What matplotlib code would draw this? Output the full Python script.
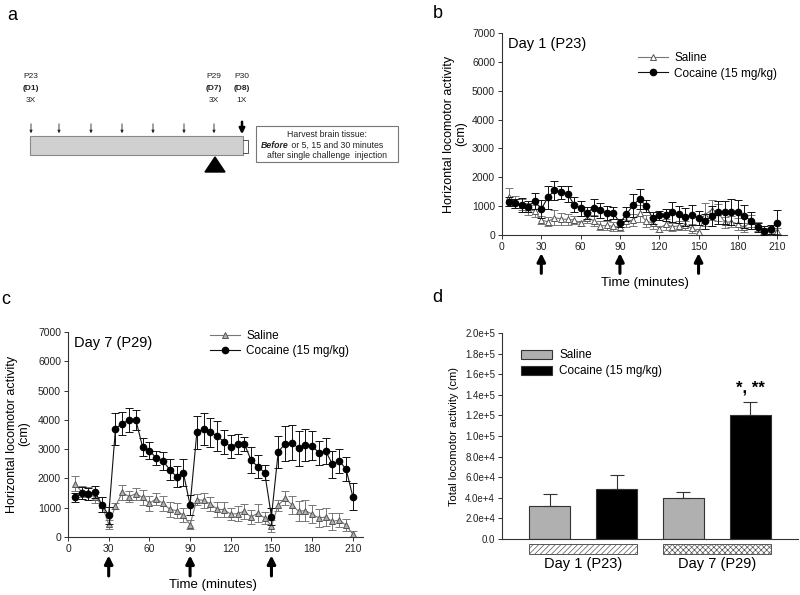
import matplotlib.pyplot as plt
import numpy as np
from matplotlib.patches import Rectangle, Polygon, Patch
from matplotlib.lines import Line2D
from matplotlib.ticker import FuncFormatter
from matplotlib.transforms import blended_transform_factory

plt.rcParams['font.family'] = ['Liberation Sans', 'DejaVu Sans']
plt.rcParams['hatch.linewidth'] = 0.5

# ---- data ----
time_min = list(range(5, 215, 5))
arrow_times = [30, 90, 150]

# Day 1 (P23)
d1_saline = [1320, 1150, 1050, 900, 830, 520, 460, 600, 560, 540, 520, 400, 600, 500,
             320, 330, 300, 280, 480, 520, 750, 480, 420, 220, 370, 280, 320, 330,
             230, 100, 700, 880, 780, 440, 460, 380, 260, 480, 300, 150, 80, 130]
d1_saline_err = [300, 200, 200, 200, 200, 150, 150, 250, 200, 200, 150, 100, 200, 200,
                 150, 150, 150, 150, 200, 200, 300, 200, 200, 100, 200, 150, 150, 150,
                 150, 100, 400, 350, 300, 200, 200, 200, 150, 200, 150, 100, 100, 100]
d1_cocaine = [1150, 1100, 1030, 980, 1180, 900, 1300, 1550, 1480, 1430, 1050, 920, 770, 950,
              850, 760, 760, 420, 720, 1030, 1250, 1000, 580, 680, 700, 800, 720, 620,
              700, 580, 470, 650, 780, 780, 800, 800, 650, 500, 270, 150, 200, 430]
d1_cocaine_err = [150, 150, 250, 200, 280, 300, 400, 320, 230, 280, 250, 250, 200, 300,
                  250, 250, 200, 150, 250, 400, 350, 200, 200, 150, 200, 350, 300, 300,
                  350, 250, 250, 350, 400, 400, 450, 400, 400, 300, 150, 150, 150, 430]

# Day 7 (P29)
d7_saline = [1820, 1550, 1550, 1350, 1100, 430, 1050, 1520, 1380, 1480, 1350, 1150, 1300, 1150,
             950, 900, 750, 420, 1280, 1250, 1130, 950, 930, 780, 800, 880, 680, 820,
             650, 380, 1080, 1330, 1100, 880, 900, 780, 650, 680, 530, 580, 400, 100]
d7_saline_err = [250, 200, 150, 200, 250, 150, 100, 250, 200, 200, 250, 250, 200, 250,
                 250, 250, 250, 150, 200, 250, 250, 250, 250, 200, 250, 250, 250, 300,
                 200, 200, 200, 250, 300, 350, 350, 300, 300, 300, 300, 250, 200, 100]
d7_cocaine = [1350, 1500, 1470, 1530, 1100, 740, 3700, 3870, 4000, 4000, 3070, 2950, 2700, 2600,
              2300, 2060, 2200, 1090, 3570, 3700, 3570, 3450, 3250, 3090, 3180, 3180, 2620, 2400,
              2200, 700, 2900, 3190, 3220, 3030, 3130, 3120, 2870, 2930, 2480, 2600, 2320, 1380]
d7_cocaine_err = [150, 200, 200, 200, 250, 300, 550, 400, 400, 350, 300, 300, 250, 300,
                  350, 350, 450, 350, 550, 550, 500, 500, 400, 400, 350, 250, 450, 400,
                  250, 300, 550, 600, 600, 600, 550, 500, 400, 450, 450, 400, 400, 450]

# Totals
groups = ['Day 1 (P23)', 'Day 7 (P29)']
total_saline = [32000, 40000]
total_saline_err = [12000, 6000]
total_cocaine = [49000, 120000]
total_cocaine_err = [13000, 13000]

# Timeline schematic
inject_days = [1, 2, 3, 4, 5, 6, 7]

W, H = 800, 595
fig = plt.figure(figsize=(8, 5.95), dpi=100)

def px_axes(x0, y0, x1, y1):
    return fig.add_axes([x0 / W, 1 - y1 / H, (x1 - x0) / W, (y1 - y0) / H])

# overlay in pixel coordinates for letters and schematic
ov = fig.add_axes([0, 0, 1, 1])
ov.set_xlim(0, W)
ov.set_ylim(H, 0)
ov.axis('off')

for letter, (x, y) in zip('abcd', [(12, 15), (438, 13), (6, 299), (437, 298)]):
    ov.text(x, y, letter, fontsize=13, ha='center', va='center')

# ---- panel a ----
bar_x0, bar_x1, bar_y0, bar_y1 = 30, 243, 136, 155
ov.add_patch(Rectangle((bar_x0, bar_y0), bar_x1 - bar_x0, bar_y1 - bar_y0,
                       facecolor='#d0d0d0', edgecolor='#888888', lw=0.8))
day_px = [31, 59, 91, 122, 153, 184, 214]
for d, x in zip(inject_days, day_px):
    ov.annotate('', xy=(x, bar_y0), xytext=(x, 121),
                arrowprops=dict(arrowstyle='-|>', lw=0.6, color='#222', mutation_scale=4))
ov.annotate('', xy=(242, 137), xytext=(242, 119),
            arrowprops=dict(arrowstyle='-|>', lw=1.8, color='black', mutation_scale=8))
for x, p, d, n in [(31, 'P23', '(D1)', '3X'), (214, 'P29', '(D7)', '3X'), (242, 'P30', '(D8)', '1X')]:
    ov.text(x, 77, p, fontsize=6, ha='center', va='center', color='#222')
    ov.text(x, 89, d, fontsize=6, ha='center', va='center', fontweight='bold', color='#222')
    ov.text(x, 101, n, fontsize=6, ha='center', va='center', color='#222')
ov.add_patch(Polygon([(205, 172), (225, 172), (215, 157)], closed=True, color='black'))
ov.plot([243, 248, 248, 243], [140, 140, 153, 153], color='#555', lw=0.7)
ov.add_patch(Rectangle((256, 126), 142, 36, facecolor='white', edgecolor='#777', lw=0.8))
ov.text(327, 134.5, 'Harvest brain tissue:', fontsize=6.3, ha='center', va='center', color='#222')
ov.text(289, 145, 'Before', fontsize=6.3, ha='right', va='center', fontweight='bold',
        fontstyle='italic', color='#222')
ov.text(289, 145, ' or 5, 15 and 30 minutes', fontsize=6.3, ha='left', va='center', color='#222')
ov.text(327, 155, 'after single challenge  injection', fontsize=6.3, ha='center', va='center', color='#222')


def style_axes(ax):
    for s in ['top', 'right']:
        ax.spines[s].set_visible(False)
    for s in ['left', 'bottom']:
        ax.spines[s].set_linewidth(0.8)
        ax.spines[s].set_color('#333')
    ax.tick_params(direction='out', length=3, width=0.7, colors='#333', labelsize=7.5,
                   labelcolor='#222', pad=2)


def time_panel(ax, sal, sal_err, coc, coc_err, title, sal_fill, legend_pos):
    ax.errorbar(time_min, sal, yerr=sal_err, color='#777', ecolor='#777', lw=0.8,
                elinewidth=0.7, capsize=3, capthick=0.7, marker='^', ms=4,
                mfc=sal_fill, mec='#555', mew=0.7, zorder=2)
    ax.errorbar(time_min, coc, yerr=coc_err, color='#111', ecolor='#111', lw=0.8,
                elinewidth=0.7, capsize=3, capthick=0.7, marker='o', ms=4.5,
                mfc='black', mec='black', zorder=3)
    ax.set_xlim(0, 217.5)
    ax.set_ylim(0, 7000)
    ax.set_xticks(range(0, 211, 30))
    ax.set_yticks(range(0, 7001, 1000))
    style_axes(ax)
    ax.text(0.02, 0.945, title, transform=ax.transAxes, fontsize=10.5, va='center', ha='left')
    handles = [Line2D([], [], color='#777', lw=0.8, marker='^', ms=4, mfc=sal_fill, mec='#555', mew=0.7),
               Line2D([], [], color='#111', lw=0.8, marker='o', ms=4.5, mfc='black', mec='black')]
    ax.legend(handles, ['Saline', 'Cocaine (15 mg/kg)'], loc='upper left', bbox_to_anchor=legend_pos,
              frameon=False, fontsize=8.5, handlelength=2.6, borderpad=0, handletextpad=0.5,
              labelspacing=0.3)
    for t in arrow_times:
        ax.annotate('', xy=(t, -0.09), xytext=(t, -0.19),
                    xycoords=('data', 'axes fraction'), textcoords=('data', 'axes fraction'),
                    arrowprops=dict(arrowstyle='-|>', lw=2.2, color='black', mutation_scale=12,
                                    shrinkA=0, shrinkB=0))


# ---- panel b ----
axb = px_axes(502, 33, 787, 235)
time_panel(axb, d1_saline, d1_saline_err, d1_cocaine, d1_cocaine_err, 'Day 1 (P23)', 'white', (0.455, 0.935))
ov.text(455, 134, 'Horizontal locomotor activity\n(cm)', rotation=90, fontsize=9,
        ha='center', va='center', linespacing=1.1)
ov.text(645, 283, 'Time (minutes)', fontsize=9.5, ha='center', va='center')

# ---- panel c ----
axc = px_axes(68, 332, 363, 537)
time_panel(axc, d7_saline, d7_saline_err, d7_cocaine, d7_cocaine_err, 'Day 7 (P29)', '#b0b0b0', (0.46, 1.04))
ov.text(18, 434, 'Horizontal locomotor activity\n(cm)', rotation=90, fontsize=9,
        ha='center', va='center', linespacing=1.1)
ov.text(213, 585, 'Time (minutes)', fontsize=9.5, ha='center', va='center')

# ---- panel d ----
axd = px_axes(502, 333, 798, 539)
pos = np.arange(4)
vals = [total_saline[0], total_cocaine[0], total_saline[1], total_cocaine[1]]
errs = [total_saline_err[0], total_cocaine_err[0], total_saline_err[1], total_cocaine_err[1]]
cols = ['#b0b0b0', 'black', '#b0b0b0', 'black']
axd.bar(pos, vals, width=0.61, color=cols, edgecolor='#333', lw=0.8,
        yerr=[np.zeros(4), errs], error_kw=dict(ecolor='#333', elinewidth=0.8, capsize=5, capthick=0.8))
axd.set_xlim(-0.71, 3.71)
axd.set_ylim(0, 200000)
axd.set_yticks(range(0, 200001, 20000))
axd.yaxis.set_major_formatter(FuncFormatter(
    lambda v, p: '0.0' if v == 0 else f'{v:.1e}'.replace('e+0', 'e+')))
axd.set_xticks([])
style_axes(axd)
axd.tick_params(axis='y', labelsize=7)
axd.legend([Patch(facecolor='#b0b0b0', edgecolor='#333', lw=0.8),
            Patch(facecolor='black', edgecolor='#333', lw=0.8)],
           ['Saline', 'Cocaine (15 mg/kg)'],
           loc='upper left', bbox_to_anchor=(0.045, 0.95), frameon=False, fontsize=8.5,
           handlelength=2.6, handleheight=0.8, borderpad=0, handletextpad=0.6, labelspacing=0.35)
axd.text(3, 133000 + 6000, '*, **', fontsize=12, fontweight='bold', ha='center', va='bottom')
axd.set_ylabel('Total locomotor activity (cm)', fontsize=8, labelpad=4)

tr = blended_transform_factory(axd.transData, axd.transAxes)
for i, (g, hatch) in enumerate(zip(groups, ['//////', 'xxxxxx'])):
    c = 2 * i + 0.5
    axd.add_patch(Rectangle((c - 0.81, -0.073), 1.62, 0.049, transform=tr, clip_on=False,
                            facecolor='white', edgecolor='#555', hatch=hatch, lw=0.7))
    axd.text(c, -0.12, g, transform=tr, fontsize=10.5, ha='center', va='center')

fig.savefig('out.png', dpi=100)
